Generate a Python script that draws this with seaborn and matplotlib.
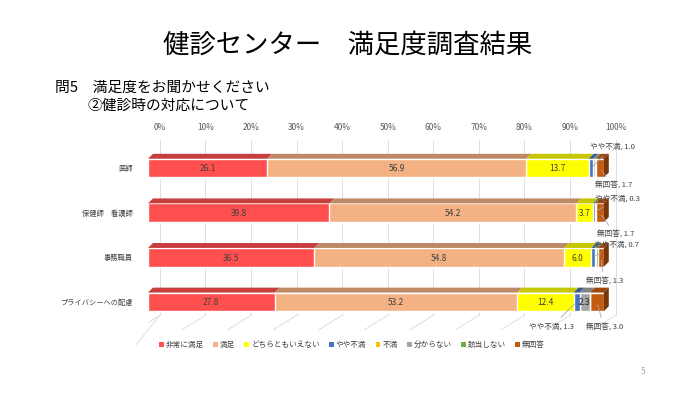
import matplotlib
matplotlib.use("Agg")
import matplotlib.pyplot as plt
from matplotlib.patches import Polygon, Patch
import matplotlib.colors as mcolors
import numpy as np
import seaborn as sns

sns.set_theme(style="white")
plt.rcParams['font.family'] = ['Noto Sans CJK JP', 'DejaVu Sans']

categories = ["医師", "保健師　看護師", "事務職員", "プライバシーへの配慮"]
series_names = ["非常に満足", "満足", "どちらともいえない", "やや不満", "不満", "分からない", "該当しない", "無回答"]
very_satisfied = [26.1, 39.8, 36.5, 27.8]
satisfied = [56.9, 54.2, 54.8, 53.2]
neutral = [13.7, 3.7, 6.0, 12.4]
somewhat_dissatisfied = [1.0, 0.3, 0.7, 1.3]
dissatisfied = [0.0, 0.0, 0.0, 0.0]
unknown = [0.3, 0.0, 0.4, 2.3]
not_applicable = [0.3, 0.3, 0.3, 0.0]
no_answer = [1.7, 1.7, 1.3, 3.0]
tick_values = [0, 10, 20, 30, 40, 50, 60, 70, 80, 90, 100]

colors = ["#FF4F4F", "#F4B183", "#FFFF00", "#4472C4", "#FFC000", "#A5A5A5", "#70AD47", "#C55A11"]
series = [very_satisfied, satisfied, neutral, somewhat_dissatisfied,
          dissatisfied, unknown, not_applicable, no_answer]

W, H = 700, 393
fig = plt.figure(figsize=(7, 3.93), dpi=100)
ax = fig.add_axes([148 / W, 1 - 330 / H, 474 / W, 190 / H])

vals = np.array(series)
cum = np.cumsum(vals, axis=0)
bar_h = 0.42
for i in reversed(range(len(series))):
    sns.barplot(x=list(cum[i]), y=categories, color=colors[i], orient="h",
                width=bar_h, ax=ax, saturation=1, zorder=3)

ax.set_xlim(0, 104)
ax.set_ylim(3.63, -0.63)

dx, dy = 1.1, 0.11
def darker(c, f=0.78):
    r, g, b = mcolors.to_rgb(c)
    return (r * f, g * f, b * f)

for r in range(len(categories)):
    top = r - bar_h / 2
    left = 0.0
    for i in range(len(series)):
        w = vals[i][r]
        if w > 0:
            ax.add_patch(Polygon([(left, top), (left + w, top), (left + w + dx, top - dy),
                                  (left + dx, top - dy)], closed=True,
                                 facecolor=darker(colors[i]), edgecolor="none", zorder=3))
        left += w
    ax.add_patch(Polygon([(left, top), (left + dx, top - dy), (left + dx, top + bar_h - dy),
                          (left, top + bar_h)], closed=True,
                         facecolor=darker(colors[-1], 0.6), edgecolor="none", zorder=3))

for r in range(len(categories)):
    left = 0.0
    for i in range(len(series)):
        w = vals[i][r]
        if w >= 2.0 and i != len(series) - 1:
            ax.text(left + w / 2, r + 0.02, f"{w:.1f}", ha="center", va="center",
                    fontsize=6, color="#404040", zorder=5)
        left += w

off = 2.6
for v in tick_values:
    ax.plot([v + off, v + off], [-0.63, 3.3], color="#D9D9D9", lw=0.6, zorder=0)
    ax.plot([v + off, v - off], [3.3, 3.63], color="#D9D9D9", lw=0.6, zorder=0)
ax.plot([off, off - 2 * off], [3.3, 3.63 + 0.33], color="#D9D9D9", lw=0.6, zorder=0, clip_on=False)

ax.set_xticks([v + off for v in tick_values])
ax.set_xticklabels([f"{v}%" for v in tick_values], fontsize=6, color="#595959")
ax.xaxis.tick_top()
ax.tick_params(axis="x", length=0, pad=6)
ax.tick_params(axis="y", length=0, pad=11, labelsize=5.2, labelcolor="#404040")
ax.set_xlabel("")
ax.set_ylabel("")
for s in ax.spines.values():
    s.set_visible(False)
ax.set_facecolor("none")

ann_style = dict(fontsize=5.5, color="#404040", zorder=6)
line_kw = dict(arrowprops=dict(arrowstyle="-", color="#A6A6A6", lw=0.6))
callouts = [
    (0, 3, 97.0, -0.48, "left"),
    (0, 7, 98.0, 0.40, "left"),
    (1, 3, 98.0, 0.68, "left"),
    (1, 7, 98.5, 1.50, "left"),
    (2, 3, 97.8, 1.71, "left"),
    (2, 7, 96.0, 2.55, "left"),
    (3, 3, 93.5, 3.55, "right"),
    (3, 7, 96.0, 3.58, "left"),
]
for r, i, tx, ty, ha in callouts:
    left = sum(vals[k][r] for k in range(i))
    w = vals[i][r]
    ax.annotate(f"{series_names[i]}, {w:.1f}", xy=(left + w / 2, r), xytext=(tx, ty),
                ha=ha, va="center", annotation_clip=False, **ann_style, **line_kw)

r = 3
left = sum(vals[k][r] for k in range(5))
ax.text(left + vals[5][r] / 2, r + 0.02, f"{vals[5][r]:.1f}", ha="center", va="center",
        fontsize=6, color="#404040", zorder=5)

handles = [Patch(facecolor=c, edgecolor="none") for c in colors]
fig.legend(handles, series_names, loc="center", bbox_to_anchor=(352 / W, 1 - 345 / H),
           ncol=8, frameon=False, fontsize=5.5, handlelength=0.6, handleheight=0.6,
           handletextpad=0.3, columnspacing=1.2, labelcolor="#404040")

fig.text(348 / W, 1 - 45 / H, "健診センター　満足度調査結果", ha="center", va="center",
         fontsize=19, color="#000000")
fig.text(55 / W, 1 - 88 / H, "問5　満足度をお聞かせください", ha="left", va="center",
         fontsize=10.6, color="#000000")
fig.text(88 / W, 1 - 106 / H, "②健診時の対応について", ha="left", va="center",
         fontsize=10.6, color="#000000")
fig.text(643 / W, 1 - 372 / H, "5", ha="center", va="center", fontsize=6, color="#A6A6A6")

fig.savefig("out.png", dpi=100)
